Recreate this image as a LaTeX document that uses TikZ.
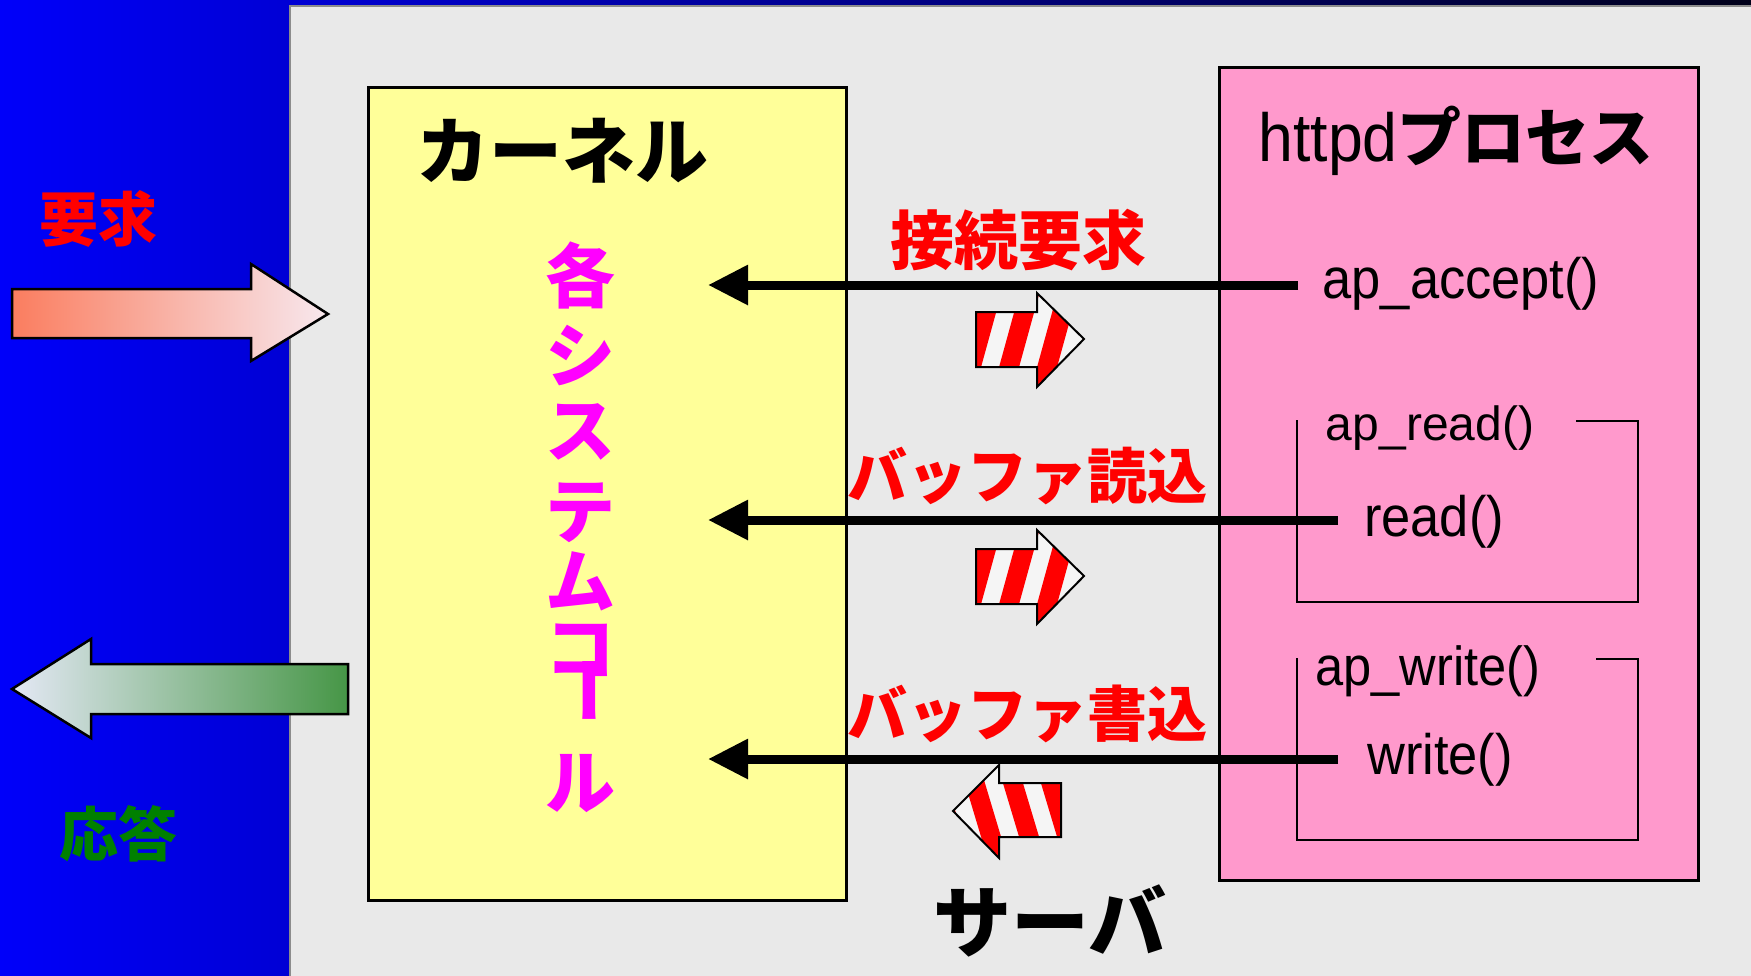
\documentclass[tikz,border=0pt]{standalone}
\usepackage{fontspec}
\setmainfont{Liberation Sans}
\newfontfamily\latn{Liberation Sans}[FakeStretch=0.92]
\newfontfamily\jp{Noto Sans CJK JP}
\usetikzlibrary{arrows.meta}
\definecolor{bgblue}{RGB}{0,0,250}
\definecolor{bgdark}{RGB}{0,0,25}
\definecolor{panelgray}{RGB}{233,233,233}
\definecolor{kyellow}{RGB}{255,255,153}
\definecolor{ppink}{RGB}{255,153,204}
\definecolor{magen}{RGB}{255,0,255}
\definecolor{dgreen}{RGB}{0,128,0}
\definecolor{stripewhite}{RGB}{245,245,245}
\tikzset{
  jpl/.style={font=\jp\bfseries\fontsize{#1}{#1}\selectfont, inner sep=0pt},
  lat/.style={font=\latn\fontsize{#1}{#1}\selectfont, inner sep=0pt},
  box/.style={draw=black, line width=2.5pt},
  conn/.style={line width=9pt, -{Triangle[length=40pt,width=38pt]}},
  bracket/.style={draw=black, line width=2pt},
  striparrow/.style={draw=black, line width=2pt, line join=miter},
}
\begin{document}
\begin{tikzpicture}[x=1pt,y=-1pt]
\useasboundingbox (0,0) rectangle (1751,975);
% background
\shade[left color=bgblue, right color=bgdark] (0,0) rectangle (1751,975);
% gray panel
\fill[panelgray] (290,6) rectangle (1760,985);
\draw[draw={rgb,255:red,140;green,140;blue,140}, line width=2pt] (290,985) -- (290,6) -- (1760,6);
% kernel box
\node[box, fill=kyellow, minimum width=478pt, minimum height=813pt, anchor=north west] (kernel) at (367,86) {};
% httpd box
\node[box, fill=ppink, minimum width=479pt, minimum height=813pt, anchor=north west] (httpd) at (1218,66) {};

% request arrow
\shade[left color={rgb,255:red,250;green,125;blue,95}, right color={rgb,255:red,248;green,232;blue,238}, draw=black, line width=2.5pt]
  (12,289) -- (251,289) -- (251,264) -- (328,314) -- (251,361) -- (251,338) -- (12,338) -- cycle;
% response arrow
\shade[left color={rgb,255:red,228;green,232;blue,245}, right color={rgb,255:red,70;green,150;blue,70}, draw=black, line width=2.5pt]
  (12,689) -- (91,639) -- (91,664) -- (348,664) -- (348,714) -- (91,714) -- (91,738) -- cycle;

% left labels
\node[jpl=59, text=red] (yokyu) at (98,219) {要求};
\node[jpl=59, text=dgreen] (outo) at (118,834) {応答};

% kernel title
\node[jpl=73, text=black] (ktitle) at (562,151) {カーネル};
% vertical system call text
\begin{scope}[every node/.style={jpl=70, text=magen}]
\node (v1) at (580,275) {各};
\node (v2) at (580,355) {シ};
\node (v3) at (580,432) {ス};
\node (v4) at (580,513) {テ};
\node (v5) at (580,581) {ム};
\node (v6) at (580,650) {コ};
\node[rotate=-90] (v7) at (579,690) {ー};
\node (v8) at (580,784) {ル};
\end{scope}

% httpd title
\node[inner sep=0pt] (htitle) at (1456,141) {\latn\fontsize{68}{68}\selectfont httpd{\jp\bfseries\fontsize{64}{64}\selectfont プロセス}};

% function names
\node[lat=57] (acc) at (1461,284) {ap\_accept()};
\node[inner sep=0pt, font=\fontsize{48}{48}\selectfont] (apread) at (1430,428) {ap\_read()};
\node[lat=57] (rd) at (1434,522) {read()};
\node[lat=55] (apwrite) at (1428,671) {ap\_write()};
\node[lat=57] (wr) at (1440,760) {write()};

% brackets
\draw[bracket] (1297,420) -- (1297,602) -- (1638,602) -- (1638,421) -- (1576,421);
\draw[bracket] (1297,658) -- (1297,840) -- (1638,840) -- (1638,659) -- (1596,659);

% red labels
\node[jpl=64, text=red] (l1) at (1018,240) {接続要求};
\node[jpl=60, text=red] (l2) at (1027,476) {バッファ読込};
\node[jpl=60, text=red] (l3) at (1027,714) {バッファ書込};

% server label
\node[jpl=78, text=black] (srv) at (1050,921) {サーバ};

% connectors
\coordinate (s1) at (1298,285); \coordinate (k1) at (708,285);
\coordinate (s2) at (1338,520); \coordinate (k2) at (708,520);
\coordinate (s3) at (1338,759); \coordinate (k3) at (708,759);
\draw[conn] (s1) -- (k1);
\draw[conn] (s2) -- (k2);
\draw[conn] (s3) -- (k3);

% striped arrows
\begin{scope}
\clip (976,312) -- (1037,312) -- (1037,293) -- (1084,339) -- (1037,387) -- (1037,367) -- (976,367) -- cycle;
\fill[stripewhite] (960,280) rectangle (1100,400);
\foreach \k in {-3,...,3} {
  \fill[red] ({990+38*\k},400) -- ({1010+38*\k},400) -- ({1043+38*\k},280) -- ({1023+38*\k},280) -- cycle;
}
\end{scope}
\draw[striparrow] (976,312) -- (1037,312) -- (1037,293) -- (1084,339) -- (1037,387) -- (1037,367) -- (976,367) -- cycle;

\begin{scope}
\clip (976,549) -- (1037,549) -- (1037,530) -- (1084,576) -- (1037,624) -- (1037,604) -- (976,604) -- cycle;
\fill[stripewhite] (960,517) rectangle (1100,637);
\foreach \k in {-3,...,3} {
  \fill[red] ({990+38*\k},637) -- ({1010+38*\k},637) -- ({1043+38*\k},517) -- ({1023+38*\k},517) -- cycle;
}
\end{scope}
\draw[striparrow] (976,549) -- (1037,549) -- (1037,530) -- (1084,576) -- (1037,624) -- (1037,604) -- (976,604) -- cycle;

\begin{scope}
\clip (953,811) -- (999,765) -- (999,783) -- (1061,783) -- (1061,837) -- (999,837) -- (999,858) -- cycle;
\fill[stripewhite] (940,750) rectangle (1080,870);
\foreach \k in {-3,...,3} {
  \fill[red] ({993+38*\k},750) -- ({1013+38*\k},750) -- ({1049+38*\k},870) -- ({1029+38*\k},870) -- cycle;
}
\end{scope}
\draw[striparrow] (953,811) -- (999,765) -- (999,783) -- (1061,783) -- (1061,837) -- (999,837) -- (999,858) -- cycle;
\end{tikzpicture}
\end{document}
